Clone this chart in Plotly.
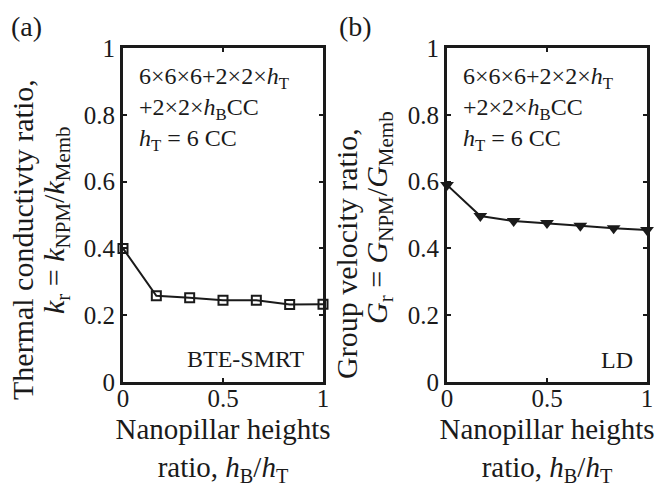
import plotly.graph_objects as go

# Data
x_ratio = [0, 1/6, 2/6, 3/6, 4/6, 5/6, 1]
k_ratio = [0.400, 0.258, 0.252, 0.245, 0.245, 0.232, 0.233]
g_ratio = [0.590, 0.497, 0.482, 0.476, 0.468, 0.460, 0.455]
y_ticks = [0, 0.2, 0.4, 0.6, 0.8, 1]
y_tick_labels = ["0", "0.2", "0.4", "0.6", "0.8", "1"]
x_ticks = [0, 0.5, 1]
x_tick_labels = ["0", "0.5", "1"]

FONT = "Liberation Serif"
W, H = 655, 487
INK = "#1a1a1a"

def px_x(p):
    return p / W

def px_y(p):
    return 1 - p / H

fig = go.Figure()

fig.add_trace(go.Scatter(
    x=x_ratio, y=k_ratio, mode="lines+markers",
    line=dict(color=INK, width=2),
    marker=dict(symbol="square-open", size=9, color=INK, line=dict(width=2)),
    xaxis="x", yaxis="y", showlegend=False, cliponaxis=False,
))
fig.add_trace(go.Scatter(
    x=x_ratio, y=g_ratio, mode="lines+markers",
    line=dict(color=INK, width=2),
    marker=dict(symbol="triangle-down", size=12, color=INK),
    xaxis="x2", yaxis="y2", showlegend=False, cliponaxis=False,
))

xaxis_common = dict(
    range=[0, 1], tickvals=x_ticks, ticktext=x_tick_labels,
    showline=True, linecolor=INK, linewidth=3, mirror="ticks",
    ticks="inside", ticklen=4, tickwidth=2, tickcolor=INK,
    showgrid=False, zeroline=False, automargin=False,
    ticklabelstandoff=-8,
    tickfont=dict(family=FONT, size=25, color=INK),
    title=dict(text="Nanopillar heights<br>ratio, <i>h</i><sub>B</sub>/<i>h</i><sub>T</sub>",
               font=dict(family=FONT, size=29, color=INK), standoff=9),
)
yaxis_common = dict(
    range=[0, 1], tickvals=y_ticks, ticktext=y_tick_labels,
    showline=True, linecolor=INK, linewidth=3, mirror="ticks",
    ticks="inside", ticklen=4, tickwidth=2, tickcolor=INK,
    showgrid=False, zeroline=False, automargin=False,
    tickfont=dict(family=FONT, size=25, color=INK),
)

fig.update_layout(
    width=W, height=H,
    margin=dict(l=0, r=0, t=0, b=0, pad=0, autoexpand=False),
    paper_bgcolor="white", plot_bgcolor="white",
    xaxis=dict(domain=[px_x(123), px_x(323)], anchor="y", **xaxis_common),
    xaxis2=dict(domain=[px_x(447), px_x(647)], anchor="y2", **xaxis_common),
    yaxis=dict(domain=[px_y(382), px_y(48)], anchor="x", **yaxis_common),
    yaxis2=dict(domain=[px_y(382), px_y(48)], anchor="x2", **yaxis_common),
)

title_font = dict(family=FONT, size=30, color=INK)
# y-axis titles (two lines each, rotated)
y_titles = [
    ("Thermal conductivty ratio,", 22, 240),
    ("<i>k</i><sub>r</sub> = <i>k</i><sub>NPM</sub>/<i>k</i><sub>Memb</sub>", 56, 220),
    ("Group velocity ratio,", 346, 253),
    ("<i>G</i><sub>r</sub> = <i>G</i><sub>NPM</sub>/<i>G</i><sub>Memb</sub>", 379, 218),
]
for txt, xp, yp in y_titles:
    fig.add_annotation(x=px_x(xp), y=px_y(yp), xref="paper", yref="paper", text=txt,
                       textangle=-90, showarrow=False, xanchor="center", yanchor="middle",
                       font=title_font)

info = "6×6×6+2×2×<i>h</i><sub>T</sub><br>+2×2×<i>h</i><sub>B</sub>CC<br><i>h</i><sub>T</sub> = 6 CC"
ann_font = dict(family=FONT, size=24, color=INK)
for xr, yr in [("x", "y"), ("x2", "y2")]:
    fig.add_annotation(x=0.07, y=0.96, xref=xr, yref=yr,
                       text=info, showarrow=False, xanchor="left", yanchor="top",
                       align="left", font=ann_font)
fig.add_annotation(x=0.92, y=0.07, xref="x", yref="y", text="BTE-SMRT", showarrow=False,
                   xanchor="right", yanchor="middle", font=dict(family=FONT, size=24, color=INK))
fig.add_annotation(x=0.94, y=0.065, xref="x2", yref="y2", text="LD", showarrow=False,
                   xanchor="right", yanchor="middle", font=dict(family=FONT, size=24, color=INK))
fig.add_annotation(x=px_x(9), y=px_y(26), xref="paper", yref="paper", text="(a)", showarrow=False,
                   xanchor="left", yanchor="middle", font=dict(family=FONT, size=28, color=INK))
fig.add_annotation(x=px_x(337), y=px_y(26), xref="paper", yref="paper", text="(b)", showarrow=False,
                   xanchor="left", yanchor="middle", font=dict(family=FONT, size=28, color=INK))

fig.write_html("out.html", config={"displayModeBar": False},
               post_script="document.body.style.margin='0';document.body.style.overflow='hidden';")
